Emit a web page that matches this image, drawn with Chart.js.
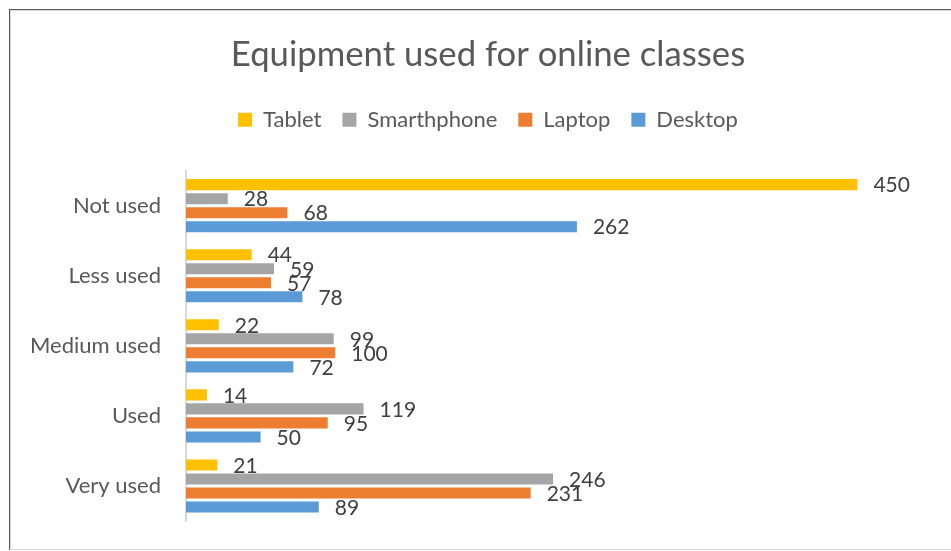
<!DOCTYPE html>
<html>
<head>
<meta charset="utf-8">
<script src="https://cdn.jsdelivr.net/npm/chart.js@4.4.0/dist/chart.umd.min.js"></script>
<style>
  html, body { margin: 0; padding: 0; background: #fff; overflow: hidden; }
  #frame { position: absolute; left: 9px; top: 9px; width: 1000px; height: 541px;
           border-left: 1px solid #595959; border-top: 1px solid #595959; box-sizing: border-box; }
  #inner { position: absolute; left: 0; top: 0; width: 1000px; height: 540px;
           border: 1px solid #d9d9d9; box-sizing: border-box; }
  #chart { position: absolute; left: 0; top: 0; }
</style>
</head>
<body>
<div id="frame"><div id="inner"></div></div>
<canvas id="chart" width="951" height="551"></canvas>
<script>
// values
const categories = ['Not used', 'Less used', 'Medium used', 'Used', 'Very used'];
const tablet = [450, 44, 22, 14, 21];
const smarthphone = [28, 59, 99, 119, 246];
const laptop = [68, 57, 100, 95, 231];
const desktop = [262, 78, 72, 50, 89];

Chart.defaults.font.family = 'Lato';

// value labels just past the bar ends
const barLabels = {
  id: 'barLabels',
  afterDatasetsDraw(chart) {
    const ctx = chart.ctx;
    ctx.save();
    ctx.font = '21px Lato';
    ctx.fillStyle = '#404040';
    ctx.textAlign = 'left';
    ctx.textBaseline = 'middle';
    chart.data.datasets.forEach((ds, i) => {
      chart.getDatasetMeta(i).data.forEach((bar, j) => {
        ctx.fillText(ds.data[j], bar.x + 16, bar.y + 1);
      });
    });
    ctx.restore();
  }
};

// extra room under the legend, and let the long category label spill left
const layoutTweaks = {
  id: 'layoutTweaks',
  beforeInit(chart) {
    const fit = chart.legend.fit;
    chart.legend.fit = function () {
      fit.bind(chart.legend)();
      this.height += 30;
    };
  },
  afterLayout(chart) {
    chart.scales.y.left = 0;
  }
};

new Chart(document.getElementById('chart'), {
  type: 'bar',
  data: {
    labels: categories,
    datasets: [
      { label: 'Tablet', data: tablet, backgroundColor: '#FFC000' },
      { label: 'Smarthphone', data: smarthphone, backgroundColor: '#A5A5A5' },
      { label: 'Laptop', data: laptop, backgroundColor: '#ED7D31' },
      { label: 'Desktop', data: desktop, backgroundColor: '#5B9BD5' }
    ]
  },
  options: {
    indexAxis: 'y',
    responsive: false,
    animation: false,
    barPercentage: 0.79,
    categoryPercentage: 0.8,
    layout: { padding: { left: 44, right: 19, top: 10, bottom: 30 } },
    scales: {
      x: { display: false, min: 0, max: 500 },
      y: {
        grid: { display: false, drawTicks: false },
        border: { display: true, color: '#d9d9d9', width: 2 },
        ticks: { color: '#595959', font: { size: 22 }, padding: 25 },
        afterFit(scale) {
          scale.width = 142;
          scale.paddingTop = 0;
          scale.paddingBottom = 0;
        }
      }
    },
    plugins: {
      title: {
        display: true,
        text: 'Equipment used for online classes',
        color: '#595959',
        font: { size: 34.7, weight: 'normal' },
        padding: { top: 24, bottom: 12 }
      },
      legend: {
        position: 'top',
        labels: { color: '#595959', font: { size: 22 }, boxWidth: 14, boxHeight: 14, padding: 21 }
      },
      tooltip: { enabled: false }
    }
  },
  plugins: [barLabels, layoutTweaks]
});
</script>
</body>
</html>
